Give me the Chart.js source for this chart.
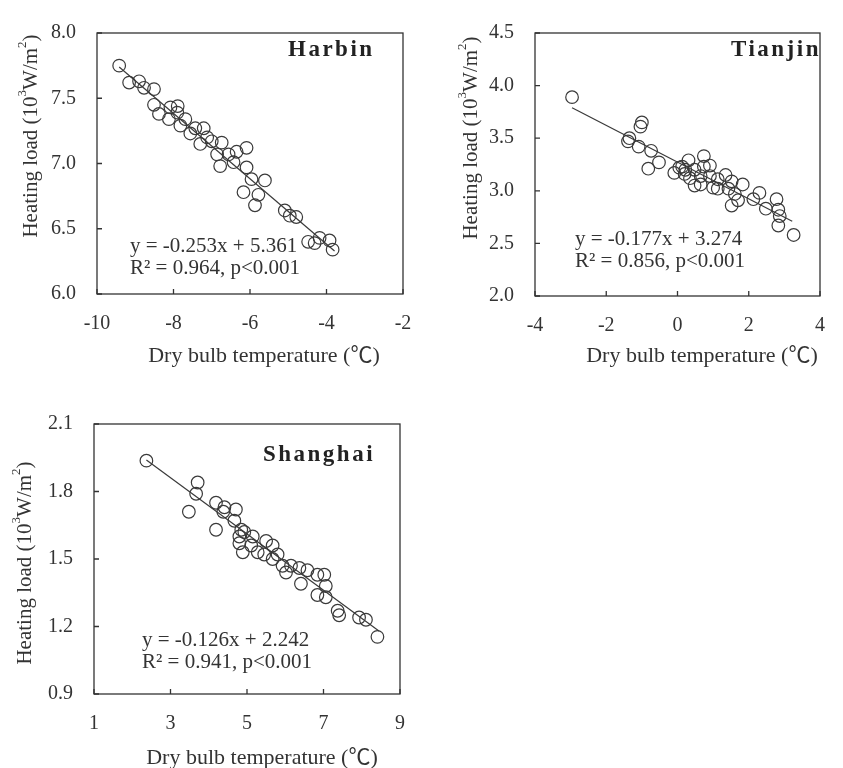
<!DOCTYPE html>
<html>
<head>
<meta charset="utf-8">
<title>Heating load vs dry bulb temperature</title>
<script src="https://cdn.jsdelivr.net/npm/chart.js@4.4.1/dist/chart.umd.min.js"></script>
<style>
    html, body { margin: 0; padding: 0; background: #fff; }
    #wrap { position: relative; width: 843px; height: 768px; overflow: hidden; }
    #wrap canvas { position: absolute; left: 0; top: 0; }
</style>
</head>
<body>
<div id="wrap">
    <canvas id="harbinChart" width="843" height="768"></canvas>
    <canvas id="tianjinChart" width="843" height="768"></canvas>
    <canvas id="shanghaiChart" width="843" height="768"></canvas>
</div>
<script>
// Datos (temperatura de bulbo seco, carga de calefacción)
const harbinTemp = [-9.42, -9.16, -8.90, -8.77, -8.51, -8.51, -8.38, -8.08, -7.89, -7.90, -8.12, -7.69, -7.82, -7.56,
    -7.43, -7.21, -7.30, -7.12, -7.00, -6.74, -6.86, -6.56, -6.35, -6.09, -6.78, -6.43, -6.09, -5.96, -5.61, -6.17,
    -5.78, -5.87, -5.09, -4.96, -4.79, -4.48, -4.31, -4.18, -3.92, -3.84];
const harbinLoad = [7.75, 7.62, 7.63, 7.58, 7.57, 7.45, 7.38, 7.43, 7.44, 7.39, 7.34, 7.34, 7.29, 7.23,
    7.27, 7.27, 7.15, 7.20, 7.17, 7.16, 7.07, 7.07, 7.09, 7.12, 6.98, 7.01, 6.97, 6.88, 6.87, 6.78,
    6.76, 6.68, 6.64, 6.60, 6.59, 6.40, 6.39, 6.43, 6.41, 6.34];
const harbinFitX = [-9.42, -3.79];
const harbinFitY = [7.74, 6.33];

const tianjinTemp = [-2.96, -1.00, -1.04, -1.35, -1.39, -1.09, -0.74, -0.52, -0.82, -0.09, 0.13, 0.31, 0.74, 0.22,
    0.48, 0.74, 0.91, 0.35, 0.65, 0.91, 1.35, 1.13, 1.52, 1.83, 0.65, 0.48, 1.13, 1.43, 1.61, 1.52, 1.70, 2.13,
    2.48, 2.78, 2.83, 2.87, 2.83, 3.26, 0.05, 0.20, 1.00, 2.30];
const tianjinLoad = [3.89, 3.65, 3.61, 3.50, 3.47, 3.42, 3.38, 3.27, 3.21, 3.17, 3.23, 3.29, 3.33, 3.20,
    3.20, 3.23, 3.24, 3.12, 3.14, 3.14, 3.15, 3.11, 3.09, 3.06, 3.06, 3.05, 3.02, 3.02, 2.97, 2.86, 2.91, 2.92,
    2.83, 2.92, 2.82, 2.76, 2.67, 2.58, 3.22, 3.16, 3.03, 2.98];
const tianjinFitX = [-2.96, 3.22];
const tianjinFitY = [3.79, 2.71];

const shanghaiTemp = [2.37, 3.71, 3.67, 3.48, 4.19, 4.41, 4.38, 4.71, 4.19, 4.67, 4.85, 4.93, 4.80, 5.15, 4.80,
    5.11, 5.50, 5.67, 4.89, 5.28, 5.45, 5.80, 5.67, 5.93, 6.15, 6.37, 6.58, 6.84, 7.02, 6.02, 6.41, 7.06, 6.84,
    7.06, 7.37, 7.41, 7.93, 8.11, 8.41];
const shanghaiLoad = [1.937, 1.84, 1.79, 1.71, 1.75, 1.73, 1.71, 1.72, 1.63, 1.67, 1.63, 1.62, 1.60, 1.60, 1.57,
    1.56, 1.58, 1.56, 1.53, 1.53, 1.52, 1.52, 1.50, 1.47, 1.47, 1.46, 1.45, 1.43, 1.43, 1.44, 1.39, 1.38, 1.34,
    1.33, 1.27, 1.25, 1.24, 1.23, 1.154];
const shanghaiFitX = [2.37, 8.45];
const shanghaiFitY = [1.94, 1.18];

// Marcas de los ejes
const harbinXTicks = [-10, -8, -6, -4, -2];
const harbinYTicks = [6.0, 6.5, 7.0, 7.5, 8.0];
const tianjinXTicks = [-4, -2, 0, 2, 4];
const tianjinYTicks = [2.0, 2.5, 3.0, 3.5, 4.0, 4.5];
const shanghaiXTicks = [1, 3, 5, 7, 9];
const shanghaiYTicks = [0.9, 1.2, 1.5, 1.8, 2.1];

const INK = '#333';
const SERIF = '"Liberation Serif", "Noto Sans CJK SC", serif';

// Dibuja un texto con partes en superíndice
function drawRich(ctx, parts, x, y, size) {
    const widths = parts.map(p => {
        ctx.font = (p.sup ? size * 0.62 : size) + 'px ' + SERIF;
        return ctx.measureText(p.t).width;
    });
    const total = widths.reduce((s, w) => s + w, 0);
    let cx = x - total / 2;
    parts.forEach((p, i) => {
        ctx.font = (p.sup ? size * 0.62 : size) + 'px ' + SERIF;
        ctx.fillText(p.t, cx, p.sup ? y - size * 0.38 : y);
        cx += widths[i];
    });
}

// Marco, marcas hacia dentro, títulos y anotaciones
const panelDeco = {
    id: 'panelDeco',
    afterDraw(chart, args, opts) {
        const ctx = chart.ctx;
        const a = chart.chartArea;
        const xs = chart.scales.x, ys = chart.scales.y;
        ctx.save();
        ctx.strokeStyle = INK;
        ctx.lineWidth = 1.3;
        ctx.strokeRect(a.left, a.top, a.right - a.left, a.bottom - a.top);
        ctx.beginPath();
        xs.ticks.forEach((t, i) => {
            const px = xs.getPixelForTick(i);
            ctx.moveTo(px, a.bottom);
            ctx.lineTo(px, a.bottom - 5);
        });
        ys.ticks.forEach((t, i) => {
            const py = ys.getPixelForTick(i);
            ctx.moveTo(a.left, py);
            ctx.lineTo(a.left + 5, py);
        });
        ctx.stroke();

        ctx.fillStyle = INK;
        ctx.textBaseline = 'middle';
        ctx.textAlign = 'left';

        // título eje y (rotado)
        ctx.save();
        ctx.translate(opts.yTitle[0], opts.yTitle[1]);
        ctx.rotate(-Math.PI / 2);
        drawRich(ctx, [
            { t: 'Heating load (10' }, { t: '3', sup: true }, { t: 'W/m' }, { t: '2', sup: true }, { t: ')' }
        ], 0, 0, 21);
        ctx.restore();

        // título eje x
        ctx.font = '22px ' + SERIF;
        ctx.textAlign = 'center';
        ctx.fillText('Dry bulb temperature (℃)', opts.xTitle[0], opts.xTitle[1]);

        // nombre de la ciudad
        ctx.textAlign = 'left';
        ctx.font = 'bold 23px ' + SERIF;
        ctx.letterSpacing = '2.5px';
        ctx.fillStyle = '#222';
        ctx.fillText(opts.name, opts.namePos[0], opts.namePos[1]);
        ctx.letterSpacing = '0px';

        // ecuación de regresión
        ctx.fillStyle = INK;
        ctx.font = '21px ' + SERIF;
        ctx.fillText(opts.eq[0], opts.eqPos[0], opts.eqPos[1]);
        ctx.fillText(opts.eq[1], opts.eqPos[0], opts.eqPos[2]);
        ctx.restore();
    }
};

function makeScale(min, max, ticks, isX, digits) {
    return {
        type: 'linear',
        min: min,
        max: max,
        afterBuildTicks: s => { s.ticks = ticks.map(v => ({ value: v })); },
        afterFit: s => { if (isX) { s.height = 40; } else { s.width = 50; } },
        grid: { display: false, drawTicks: false },
        border: { display: false },
        ticks: {
            padding: isX ? 18 : 21,
            color: INK,
            font: { family: SERIF, size: 20 },
            callback: v => Number(v).toFixed(digits)
        }
    };
}

function drawPanel(id, temp, load, fitX, fitY, xTicks, yTicks, yDigits, padding, deco) {
    const ctx = document.getElementById(id);
    const points = temp.map((t, i) => ({ x: t, y: load[i] }));
    const fit = fitX.map((t, i) => ({ x: t, y: fitY[i] }));
    return new Chart(ctx, {
        type: 'scatter',
        data: {
            datasets: [{
                data: points,
                pointStyle: 'circle',
                pointRadius: 6.3,
                pointBorderWidth: 1.2,
                borderColor: '#3a3a3a',
                backgroundColor: 'rgba(255,255,255,0)'
            }, {
                type: 'line',
                data: fit,
                showLine: true,
                borderColor: '#3a3a3a',
                borderWidth: 1.2,
                pointRadius: 0,
                fill: false
            }]
        },
        options: {
            responsive: false,
            animation: false,
            devicePixelRatio: 1,
            layout: { padding: padding, autoPadding: false },
            scales: {
                x: makeScale(xTicks[0], xTicks[xTicks.length - 1], xTicks, true, 0),
                y: makeScale(yTicks[0], yTicks[yTicks.length - 1], yTicks, false, yDigits)
            },
            plugins: {
                legend: { display: false },
                tooltip: { enabled: false },
                panelDeco: deco
            }
        },
        plugins: [panelDeco]
    });
}

drawPanel('harbinChart', harbinTemp, harbinLoad, harbinFitX, harbinFitY, harbinXTicks, harbinYTicks, 1,
    { left: 47, top: 20, right: 440, bottom: 434 },
    { name: 'Harbin', namePos: [288, 50], eq: ['y = -0.253x + 5.361', 'R² = 0.964, p<0.001'], eqPos: [130, 246, 268],
      yTitle: [31, 136], xTitle: [264, 356] });

drawPanel('tianjinChart', tianjinTemp, tianjinLoad, tianjinFitX, tianjinFitY, tianjinXTicks, tianjinYTicks, 1,
    { left: 485, top: 22, right: 4, bottom: 432 },
    { name: 'Tianjin', namePos: [731, 50], eq: ['y = -0.177x + 3.274', 'R² = 0.856, p<0.001'], eqPos: [575, 239, 261],
      yTitle: [471, 138], xTitle: [702, 356] });

drawPanel('shanghaiChart', shanghaiTemp, shanghaiLoad, shanghaiFitX, shanghaiFitY, shanghaiXTicks, shanghaiYTicks, 1,
    { left: 44, top: 424, right: 443, bottom: 34 },
    { name: 'Shanghai', namePos: [263, 455], eq: ['y = -0.126x + 2.242', 'R² = 0.941, p<0.001'], eqPos: [142, 640, 662],
      yTitle: [25, 563], xTitle: [262, 758] });
</script>
</body>
</html>
